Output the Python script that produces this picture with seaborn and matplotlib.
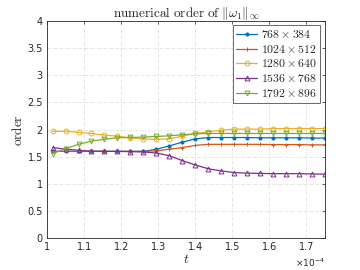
"""
Numerical order of ||omega_1||_inf versus t for five grid resolutions.
"""
import matplotlib
matplotlib.use("Agg")

import numpy as np
import matplotlib.pyplot as plt
import seaborn as sns
from matplotlib.ticker import FuncFormatter, MultipleLocator

# ── Data (t in units of 1e-4) ────────────────────────────────────────────────
t = [1.015, 1.050, 1.085, 1.120, 1.155, 1.190, 1.225, 1.260, 1.295, 1.330, 1.365,
     1.400, 1.435, 1.470, 1.505, 1.540, 1.575, 1.610, 1.645, 1.680, 1.715, 1.750]

order_768 = [1.60, 1.60, 1.60, 1.60, 1.60, 1.60, 1.60, 1.60, 1.64, 1.70, 1.77,
             1.83, 1.855, 1.855, 1.855, 1.855, 1.85, 1.85, 1.85, 1.85, 1.845, 1.845]
order_1024 = [1.60, 1.60, 1.60, 1.60, 1.60, 1.60, 1.60, 1.60, 1.61, 1.64, 1.67,
              1.71, 1.73, 1.73, 1.73, 1.73, 1.73, 1.725, 1.725, 1.725, 1.72, 1.72]
order_1280 = [1.97, 1.97, 1.95, 1.93, 1.90, 1.88, 1.85, 1.83, 1.82, 1.83, 1.88,
              1.93, 1.96, 1.99, 2.01, 2.01, 2.01, 2.02, 2.02, 2.02, 2.02, 2.02]
order_1536 = [1.67, 1.64, 1.62, 1.605, 1.60, 1.60, 1.595, 1.59, 1.57, 1.52, 1.43,
              1.35, 1.28, 1.24, 1.21, 1.20, 1.195, 1.19, 1.19, 1.19, 1.185, 1.18]
order_1792 = [1.56, 1.65, 1.73, 1.79, 1.825, 1.85, 1.856, 1.862, 1.875, 1.887, 1.905,
              1.924, 1.93, 1.93, 1.93, 1.93, 1.93, 1.93, 1.93, 1.93, 1.93, 1.93]

labels = [r"$768\times384$", r"$1024\times512$", r"$1280\times640$",
          r"$1536\times768$", r"$1792\times896$"]

# ── Style ────────────────────────────────────────────────────────────────────
sns.set_theme(style="white")
plt.rcParams.update({
    "font.family": ["DejaVu Sans"],
    "mathtext.fontset": "cm",
    "axes.edgecolor": "#262626",
    "axes.linewidth": 0.6,
    "xtick.direction": "in",
    "ytick.direction": "in",
    "xtick.top": True,
    "ytick.right": True,
    "xtick.major.size": 2.5,
    "ytick.major.size": 2.5,
    "xtick.major.width": 0.5,
    "ytick.major.width": 0.5,
    "xtick.labelsize": 7,
    "ytick.labelsize": 7,
    "xtick.color": "#262626",
    "ytick.color": "#262626",
})

series = [order_768, order_1024, order_1280, order_1536, order_1792]
colors = ["#0072BD", "#D95319", "#EDB120", "#7E2F8E", "#77AC30"]
markers = [".", "+", "o", "^", "v"]
sizes = [4.5, 3.5, 3.5, 3.5, 3.5]
filled = [True, True, False, False, False]

fig = plt.figure(figsize=(3.6, 2.7), dpi=100)
ax = fig.add_axes([0.1306, 0.1174, 0.7722, 0.8048])

for vals, lab, col, mk, ms, fill in zip(series, labels, colors, markers, sizes, filled):
    sns.lineplot(x=t, y=vals, ax=ax, color=col, marker=mk, markersize=ms,
                 markerfacecolor=col if fill else "none", markeredgecolor=col,
                 markeredgewidth=0.7, lw=0.9, label=lab)

ax.set_xlim(1, 1.75)
ax.set_ylim(0, 4)
ax.xaxis.set_major_locator(MultipleLocator(0.1))
ax.yaxis.set_major_locator(MultipleLocator(0.5))
fmt = FuncFormatter(lambda v, p: f"{v:g}")
ax.xaxis.set_major_formatter(fmt)
ax.yaxis.set_major_formatter(fmt)
ax.tick_params(pad=3)

ax.grid(True, color="#d4d4d4", lw=0.5, ls=(0, (4, 2, 1, 2)))

ax.set_title(r"$\mathrm{numerical\ order\ of}\ \|\omega_1\|_\infty$", fontsize=9.5, pad=3)
ax.set_xlabel(r"$t$", fontsize=10, labelpad=0)
ax.set_ylabel(r"$\mathrm{order}$", fontsize=9.5, labelpad=2)
ax.text(1.0, -0.115, r"$\times10^{-4}$", transform=ax.transAxes, ha="right",
        va="center", fontsize=6.5, math_fontfamily="dejavusans", color="#262626")

leg = ax.legend(loc="upper right", bbox_to_anchor=(0.982, 0.982), fontsize=8.5,
                frameon=True, fancybox=False, edgecolor="#262626",
                handlelength=1.8, handletextpad=0.3, borderpad=0.25,
                labelspacing=0.15, borderaxespad=0)
leg.get_frame().set_linewidth(0.6)

fig.savefig("out.png", dpi=100)
